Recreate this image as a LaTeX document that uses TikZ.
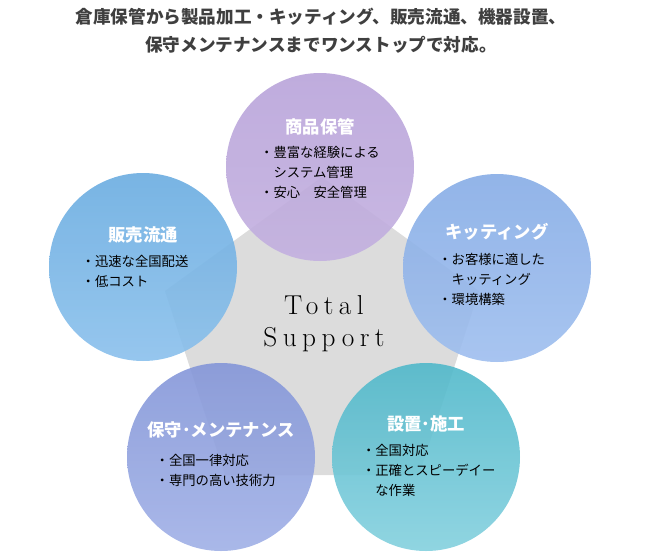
\documentclass[tikz,border=0pt]{standalone}
\usepackage{fontspec}
\newfontfamily\jp{Noto Sans CJK JP}
\newfontfamily\totalfont[LetterSpace=20]{lmroman17-regular.otf}
\usepackage{xcolor}
\usetikzlibrary{positioning}

\definecolor{pentgray}{HTML}{DCDCDC}
\definecolor{titlegray}{HTML}{3F3F3F}
\definecolor{storagetop}{RGB}{184,163,217}
\definecolor{storagebot}{RGB}{195,176,224}
\definecolor{salestop}{RGB}{106,172,224}
\definecolor{salesbot}{RGB}{138,192,236}
\definecolor{kittingtop}{RGB}{134,172,230}
\definecolor{kittingbot}{RGB}{158,190,238}
\definecolor{mainttop}{RGB}{132,150,216}
\definecolor{maintbot}{RGB}{160,176,230}
\definecolor{installtop}{RGB}{80,184,202}
\definecolor{installbot}{RGB}{132,208,222}

\begin{document}
\begin{tikzpicture}[
    x=0.75pt, y=-0.75pt,
    node distance=5pt,
    every node/.style={font=\jp},
    circ/.style={
      circle, minimum size=141pt, inner sep=0pt, fill opacity=0.9
    },
    headtext/.style={
      font=\jp\bfseries\fontsize{13}{15}\selectfont, text=white, inner sep=0pt
    },
    bodytext/.style={
      font=\jp\fontsize{10}{15}\selectfont, text=black, align=left, inner sep=0pt, anchor=north
    },
    titletext/.style={
      font=\jp\bfseries\fontsize{13.2}{21}\selectfont, text=titlegray, align=center, inner sep=0pt
    }
  ]
    \useasboundingbox (0,0) rectangle (650,557);

    % Title
    \node[titletext] (title) at (321,31) {倉庫保管から製品加工・キッティング、販売流通、機器設置、\\保守メンテナンスまでワンストップで対応。};

    % Gray pentagon
    \fill[pentgray] (322,177) -- (479,291) -- (419,475) -- (225,475) -- (165,291) -- cycle;

    % Circles
    \node[circ, top color=storagetop, bottom color=storagebot] (storage) at (320,167) {};
    \node[circ, top color=salestop, bottom color=salesbot] (sales) at (143,267) {};
    \node[circ, top color=kittingtop, bottom color=kittingbot] (kitting) at (497,268) {};
    \node[circ, top color=mainttop, bottom color=maintbot] (maint) at (221,457) {};
    \node[circ, top color=installtop, bottom color=installbot] (install) at (426,457) {};

    % Center text
    \node[font=\totalfont\fontsize{20.5}{24}\selectfont, align=center, inner sep=0pt] (total) at (324,324) {Total\\Support};

    % Headings
    \node[headtext] (storagehead) at ([yshift=30pt]storage.center) {商品保管};
    \node[headtext] (saleshead) at ([yshift=24pt]sales.center) {販売流通};
    \node[headtext] (kittinghead) at ([yshift=27pt]kitting.center) {キッティング};
    \node[headtext] (mainthead) at ([yshift=20pt]maint.center) {保守･メンテナンス};
    \node[headtext] (installhead) at ([yshift=25pt]install.center) {設置･施工};

    % Bullet texts
    \node[bodytext, below=8pt of storagehead] (storagebody) {・豊富な経験による\\\hspace{1em}システム管理\\・安心　安全管理};
    \node[bodytext, below=8.5pt of saleshead, xshift=-6pt] (salesbody) {・迅速な全国配送\\・低コスト};
    \node[bodytext, below=9pt of kittinghead, xshift=-4pt] (kittingbody) {・お客様に適した\\\hspace{1em}キッティング\\・環境構築};
    \node[bodytext, below=11pt of mainthead, xshift=-4pt] (maintbody) {・全国一律対応\\・専門の高い技術力};
    \node[bodytext, below=9pt of installhead, xshift=2pt] (installbody) {・全国対応\\・正確とスピーデイー\\\hspace{1em}な作業};

  \end{tikzpicture}
\end{document}
